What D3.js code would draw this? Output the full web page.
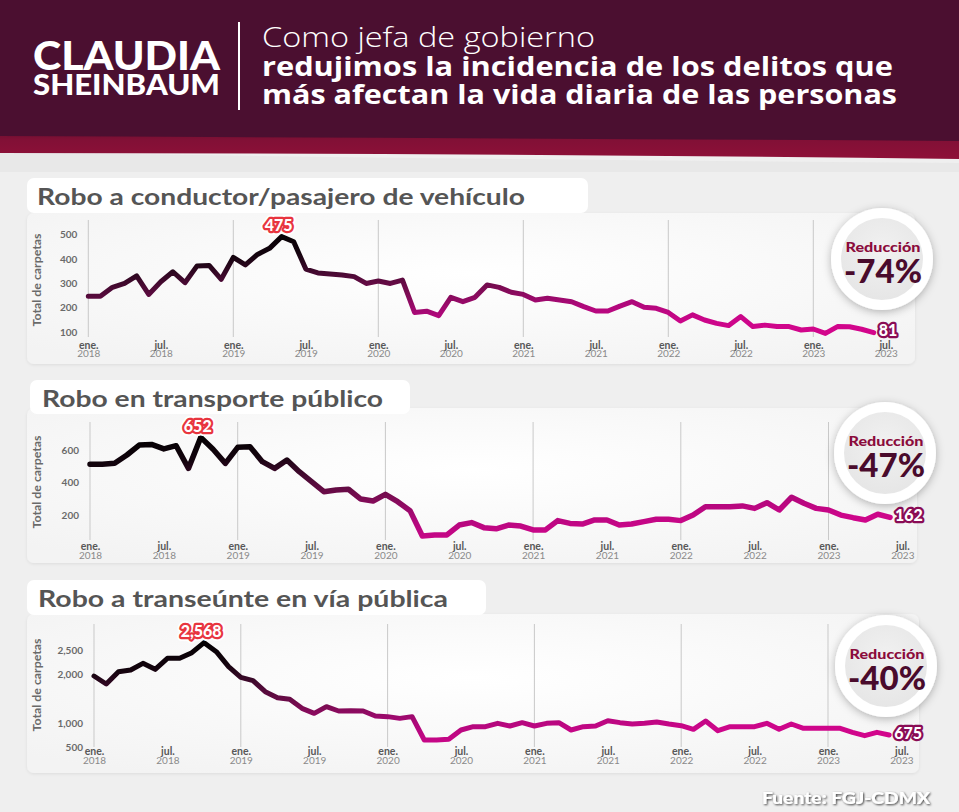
<!DOCTYPE html>
<html><head><meta charset="utf-8">
<script src="https://cdn.jsdelivr.net/npm/d3@7"></script>
<style>
html,body{margin:0;padding:0;background:#efefef;}
svg{display:block;}
</style></head><body>
<svg id="c" width="959" height="812"></svg>
<script>
// ---------------- DATA ----------------
const monthNames = ["ene.", "jul."];
const firstYear = 2018;
const xTickIdx = [0, 6, 12, 18, 24, 30, 36, 42, 48, 54, 60, 66];
const gridIdx = [0, 12, 24, 36, 48, 60];

const titles = ["Robo a conductor/pasajero de vehículo", "Robo en transporte público", "Robo a transeúnte en vía pública"];
const reductions = ["-74%", "-47%", "-40%"];

// Jan 2018 – Jun 2023, monthly
const robo1 = [230,230,267,283,314,238,290,331,286,355,357,300,390,359,402,427,475,454,342,326,322,318,311,283,293,283,297,164,169,151,226,208,226,277,267,247,238,215,222,215,208,188,170,170,190,208,185,181,164,129,154,133,119,110,147,106,112,106,106,92,96,78,106,105,95,81];
const robo2 = [487,487,493,544,605,609,581,601,462,652,579,493,591,595,503,462,513,442,381,319,330,334,274,262,303,258,203,48,54,54,115,130,99,92,115,109,85,85,142,125,121,146,146,115,121,136,150,150,142,176,227,227,227,232,217,252,207,285,248,217,207,176,160,146,181,162];
const robo3 = [1884,1720,1973,2008,2144,2021,2247,2247,2363,2568,2383,2076,1857,1789,1563,1440,1406,1221,1119,1256,1167,1174,1167,1064,1051,1016,1051,572,572,586,777,845,845,914,859,928,859,914,928,777,845,859,968,928,900,914,941,900,866,791,962,763,845,845,845,914,791,900,811,811,811,811,729,661,729,675];

const yTicks1 = [100, 200, 300, 400, 500];
const yTicks2 = [200, 400, 600];
const yTicks3 = [500, 1000, 2000, 2500];

// ---------------- LAYOUT ----------------
const charts = [
  {data: robo1, ticks: yTicks1, title: titles[0], red: reductions[0],
   box: [27,178,561,35], panel: [27,213,888,151], x0: 88.3, yearW: 145,
   yDom: [0,600], yRng: [352.4,206.2], gridTop: 220, gridBot: 337, labelY: 348.5,
   titleX: 37, titleBase: 205, titleW: 488, circ: [882,259], axisTitleY: 280, sw: 5},
  {data: robo2, ticks: yTicks2, title: titles[1], red: reductions[1],
   box: [30,380,380,34], panel: [27,408,890,155], x0: 90, yearW: 147.7,
   yDom: [0,800], yRng: [543.8,413.2], gridTop: 422, gridBot: 540, labelY: 550,
   titleX: 42, titleBase: 407, titleW: 341, circ: [885,453], axisTitleY: 482, sw: 5.5},
  {data: robo3, ticks: yTicks3, title: titles[2], red: reductions[2],
   box: [27,580,459,35], panel: [27,614,892,159], x0: 94, yearW: 146.8,
   yDom: [0,3000], yRng: [767.9,621.6], gridTop: 624, gridBot: 747, labelY: 755,
   titleX: 38, titleBase: 607, titleW: 410, circ: [886,666], axisTitleY: 685, sw: 5}
];

const svg = d3.select("#c");
const defs = svg.append("defs");

// filters
const f1 = defs.append("filter").attr("id","sh").attr("x","-10%").attr("y","-20%").attr("width","120%").attr("height","140%");
f1.append("feDropShadow").attr("dx",0).attr("dy",1).attr("stdDeviation",1.5).attr("flood-color","#000").attr("flood-opacity",0.08);
const f2 = defs.append("filter").attr("id","csh").attr("x","-30%").attr("y","-30%").attr("width","160%").attr("height","160%");
f2.append("feDropShadow").attr("dx",0).attr("dy",2).attr("stdDeviation",4).attr("flood-color","#000").attr("flood-opacity",0.28);
const f3 = defs.append("filter").attr("id","tsh").attr("x","-10%").attr("y","-30%").attr("width","120%").attr("height","160%");
f3.append("feDropShadow").attr("dx",1).attr("dy",1).attr("stdDeviation",1.2).attr("flood-color","#000").attr("flood-opacity",0.75);

const pg = defs.append("radialGradient").attr("id","pgrad").attr("cx","50%").attr("cy","40%").attr("r","70%");
pg.append("stop").attr("offset","0%").attr("stop-color","#ffffff");
pg.append("stop").attr("offset","100%").attr("stop-color","#f3f3f3");

const ig = defs.append("radialGradient").attr("id","igrad").attr("cx","50%").attr("cy","40%").attr("r","60%");
ig.append("stop").attr("offset","0%").attr("stop-color","#f1f1f1");
ig.append("stop").attr("offset","100%").attr("stop-color","#e6e6e6");

const hg = defs.append("linearGradient").attr("id","hband").attr("x1",0).attr("x2",0).attr("y1",0).attr("y2",1);
hg.append("stop").attr("offset","0%").attr("stop-color","#64102f");
hg.append("stop").attr("offset","40%").attr("stop-color","#821036");
hg.append("stop").attr("offset","100%").attr("stop-color","#8e1038");

// ---------------- HEADER ----------------
svg.append("rect").attr("x",0).attr("y",0).attr("width",959).attr("height",812).attr("fill","#efefef");
svg.append("path").attr("d","M0,152 Q480,160 959,163 L959,172 L0,172 Z").attr("fill","#e3e3e3").attr("opacity",0.6);
svg.append("path").attr("d","M0,128 L959,128 L959,159 Q480,153 0,153 Z").attr("fill","url(#hband)");
svg.append("path").attr("d","M0,0 L959,0 L959,141 Q480,138 0,136 Z").attr("fill","#4b0f30");

svg.append("text").attr("x",33).attr("y",70).attr("font-family","Lato, 'Open Sans', sans-serif")
  .attr("font-weight",900).attr("font-size",39).attr("fill","#fff")
  .attr("textLength",187).attr("lengthAdjust","spacingAndGlyphs").text("CLAUDIA");
svg.append("text").attr("x",33).attr("y",95).attr("font-family","Lato, 'Open Sans', sans-serif")
  .attr("font-weight",900).attr("font-size",28).attr("fill","#fff")
  .attr("textLength",187).attr("lengthAdjust","spacingAndGlyphs").text("SHEINBAUM");
svg.append("line").attr("x1",239).attr("x2",239).attr("y1",22).attr("y2",110).attr("stroke","#fff").attr("stroke-width",2);
svg.append("text").attr("x",262).attr("y",47).attr("font-family","'Open Sans', sans-serif")
  .attr("font-weight",300).attr("font-size",27).attr("fill","#fff")
  .attr("textLength",333).attr("lengthAdjust","spacingAndGlyphs").text("Como jefa de gobierno");
svg.append("text").attr("x",262).attr("y",76).attr("font-family","'Open Sans', sans-serif")
  .attr("font-weight",700).attr("font-size",27).attr("fill","#fff")
  .attr("textLength",631).attr("lengthAdjust","spacingAndGlyphs").text("redujimos la incidencia de los delitos que");
svg.append("text").attr("x",262).attr("y",104).attr("font-family","'Open Sans', sans-serif")
  .attr("font-weight",700).attr("font-size",27).attr("fill","#fff")
  .attr("textLength",635).attr("lengthAdjust","spacingAndGlyphs").text("más afectan la vida diaria de las personas");

// ---------------- CHARTS ----------------
const gradStops = [[0,"#000000"],[0.2,"#14040e"],[0.36,"#4a0a34"],[0.52,"#7a0c52"],[0.68,"#ae087a"],[0.84,"#cc068a"],[1,"#d4058c"]];

charts.forEach((c, ci) => {
  const g = svg.append("g");
  // panel + title box
  g.append("rect").attr("x",c.panel[0]).attr("y",c.panel[1]).attr("width",c.panel[2]).attr("height",c.panel[3])
    .attr("rx",7).attr("fill","url(#pgrad)").attr("filter","url(#sh)");
  g.append("rect").attr("x",c.box[0]).attr("y",c.box[1]).attr("width",c.box[2]).attr("height",c.box[3])
    .attr("rx",7).attr("fill","#fff");
  g.append("text").attr("x",c.titleX).attr("y",c.titleBase)
    .attr("font-family","Lato, 'Open Sans', sans-serif").attr("font-weight",700).attr("font-size",23)
    .attr("fill","#555").attr("textLength",c.titleW).attr("lengthAdjust","spacingAndGlyphs").text(c.title);

  const n = c.data.length;
  const x = d3.scaleLinear().domain([0, 66]).range([c.x0, c.x0 + 5.5 * c.yearW]);
  const y = d3.scaleLinear().domain(c.yDom).range(c.yRng);

  // gridlines
  g.append("g").selectAll("line").data(gridIdx).join("line")
    .attr("x1",d=>x(d)).attr("x2",d=>x(d)).attr("y1",c.gridTop).attr("y2",c.gridBot)
    .attr("stroke","#c9c9c9").attr("stroke-width",1);

  // y axis
  const gy = g.append("g").attr("transform",`translate(${c.x0 - 11},0)`)
    .call(d3.axisLeft(y).tickValues(c.ticks).tickSize(0).tickPadding(0).tickFormat(d3.format(",")));
  gy.select(".domain").remove();
  gy.selectAll(".tick text").attr("y",4).attr("font-family","Lato, 'Open Sans', sans-serif")
    .attr("font-weight",700).attr("font-size",10).attr("fill","#6a6a6a");

  // axis title
  g.append("text").attr("transform",`translate(41,${c.axisTitleY}) rotate(-90)`).attr("text-anchor","middle")
    .attr("font-family","Lato, 'Open Sans', sans-serif").attr("font-weight",700).attr("font-size",11.5)
    .attr("fill","#6a6a6a").attr("textLength",93).attr("lengthAdjust","spacingAndGlyphs").text("Total de carpetas");

  // x axis
  const gx = g.append("g").attr("transform",`translate(0,${c.labelY})`)
    .call(d3.axisBottom(x).tickValues(xTickIdx).tickSize(0).tickFormat(() => ""));
  gx.select(".domain").remove();
  gx.selectAll(".tick text").each(function(d) {
    const t = d3.select(this).attr("y",0).attr("dy",null).attr("text-anchor","middle");
    t.append("tspan").attr("x",0).attr("y",0).attr("font-family","Lato, 'Open Sans', sans-serif")
      .attr("font-weight",700).attr("font-size",10.5).attr("fill","#585858").text(monthNames[(d % 12) / 6]);
    t.append("tspan").attr("x",0).attr("y",8.5).attr("font-family","Lato, 'Open Sans', sans-serif")
      .attr("font-weight",400).attr("font-size",10).attr("fill","#8a8a8a").text(firstYear + Math.floor(d / 12));
  });

  // gradient for the line: t = 0.35*X + 0.65*Y
  const maxV = d3.max(c.data), minV = d3.min(c.data);
  const xL = x(0), W = x(n - 1) - x(0), yT = y(maxV), H = y(minV) - y(maxV);
  const a = 0.35 / W, b = 0.65 / H, s = a * a + b * b;
  const lg = defs.append("linearGradient").attr("id","lg" + ci).attr("gradientUnits","userSpaceOnUse")
    .attr("x1",xL).attr("y1",yT).attr("x2",xL + a / s).attr("y2",yT + b / s);
  gradStops.forEach(st => lg.append("stop").attr("offset",st[0]).attr("stop-color",st[1]));

  const line = d3.line().x((d, i) => x(i)).y(d => y(d));
  g.append("path").datum(c.data).attr("d",line).attr("fill","none")
    .attr("stroke",`url(#lg${ci})`).attr("stroke-width",c.sw)
    .attr("stroke-linejoin","round").attr("stroke-linecap","round");

  // peak label
  const pi = d3.maxIndex(c.data);
  const peakTxt = d3.format(",")(c.data[pi]);
  const px = x(pi) - 3, py = y(c.data[pi]) - 11;
  [["#fff",8],["#e8353f",4.5]].forEach(([col, w]) => {
    g.append("text").attr("x",px).attr("y",py).attr("dy","0.36em").attr("text-anchor","middle")
      .attr("font-family","Lato, 'Open Sans', sans-serif").attr("font-weight",900).attr("font-size",16)
      .attr("fill","#fff").attr("stroke",col).attr("stroke-width",w).attr("stroke-linejoin","round")
      .attr("paint-order","stroke").text(peakTxt);
  });

  // end label
  const li = n - 1;
  g.append("text").attr("x",x(li) + 5).attr("y",y(c.data[li]) - 2).attr("dy","0.36em")
    .attr("font-family","Lato, 'Open Sans', sans-serif").attr("font-weight",900).attr("font-size",16)
    .attr("fill","#fff").attr("stroke","#8a0c55").attr("stroke-width",4.5).attr("stroke-linejoin","round")
    .attr("paint-order","stroke").text(d3.format(",")(c.data[li]));

  // reduction circle
  const [cx, cy] = c.circ;
  g.append("circle").attr("cx",cx).attr("cy",cy).attr("r",51).attr("fill","#fff").attr("filter","url(#csh)");
  g.append("circle").attr("cx",cx).attr("cy",cy).attr("r",41).attr("fill","url(#igrad)");
  g.append("text").attr("x",cx + 1).attr("y",cy - 12).attr("dy","0.36em").attr("text-anchor","middle")
    .attr("font-family","Lato, 'Open Sans', sans-serif").attr("font-weight",900).attr("font-size",13.5)
    .attr("fill","#8b0b3c").attr("textLength",75).attr("lengthAdjust","spacingAndGlyphs").text("Reducción");
  g.append("text").attr("x",cx + 1).attr("y",cy + 12).attr("dy","0.36em").attr("text-anchor","middle")
    .attr("font-family","Lato, 'Open Sans', sans-serif").attr("font-weight",900).attr("font-size",32)
    .attr("fill","#4a0b2c").attr("textLength",78).attr("lengthAdjust","spacingAndGlyphs").text(c.red);
});

// footer
svg.append("text").attr("x",930).attr("y",804).attr("text-anchor","end")
  .attr("font-family","Lato, 'Open Sans', sans-serif").attr("font-weight",900).attr("font-size",17)
  .attr("fill","#fff").attr("filter","url(#tsh)").attr("textLength",168).attr("lengthAdjust","spacingAndGlyphs")
  .text("Fuente: FGJ-CDMX");
</script>
</body></html>
